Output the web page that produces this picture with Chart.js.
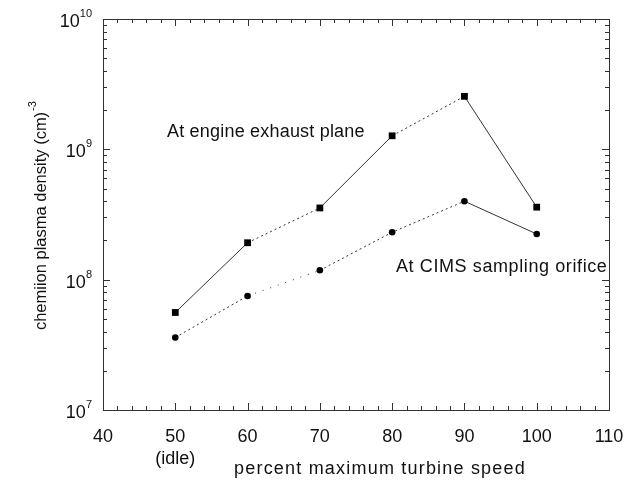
<!DOCTYPE html>
<html>
<head>
<meta charset="utf-8">
<script src="https://cdn.jsdelivr.net/npm/chart.js@4/dist/chart.umd.min.js"></script>
<style>
  html, body { margin: 0; padding: 0; background: #fff; }
  #wrap { width: 635px; height: 480px; }
</style>
</head>
<body>
<div id="wrap"><canvas id="c" width="635" height="480"></canvas></div>
<script>
// Turbine speed (percent of maximum) and chemiion densities (cm^-3)
const speeds = [50, 60, 70, 80, 90, 100];
const exhaustPlane = [5.6e7, 1.92e8, 3.55e8, 1.27e9, 2.55e9, 3.6e8];
const cimsOrifice = [3.6e7, 7.5e7, 1.18e8, 2.31e8, 4.0e8, 2.24e8];

const xTicks = [40, 50, 60, 70, 80, 90, 100, 110];
const yExponents = [7, 8, 9, 10];

// Look of each connecting segment
const exhaustSegs = ['solid', 'dotted', 'solid', 'dotted', 'solid'];
const cimsSegs = ['dotted', 'sparse', 'dotted', 'dotted', 'solid'];
const dashFor = { solid: [], dotted: [2, 3], sparse: [1, 7] };

const FONT = '"Liberation Sans", Arial, sans-serif';
const INK = '#111';

function spaced(ctx, px) {
  if ('letterSpacing' in ctx) ctx.letterSpacing = px + 'px';
}

const framePlugin = {
  id: 'frame',
  afterDatasetsDraw(chart) {
    const { ctx, chartArea: a, scales: { x, y } } = chart;
    ctx.save();
    ctx.strokeStyle = '#333';
    ctx.lineWidth = 1;
    ctx.strokeRect(Math.round(a.left) + 0.5, Math.round(a.top) + 0.5,
                   Math.round(a.right - a.left), Math.round(a.bottom - a.top));
    ctx.beginPath();
    // x ticks: minor every 2, major every 10
    for (let v = 40; v <= 110; v += 2) {
      const px = Math.round(x.getPixelForValue(v)) + 0.5;
      const len = v % 10 === 0 ? 7 : 4;
      ctx.moveTo(px, a.bottom); ctx.lineTo(px, a.bottom - len);
      ctx.moveTo(px, a.top); ctx.lineTo(px, a.top + len);
    }
    // y ticks: decades and 2..9 minor
    for (let e = 7; e <= 10; e++) {
      for (let m = 1; m <= 9; m++) {
        if (e === 10 && m > 1) break;
        const py = Math.round(y.getPixelForValue(m * Math.pow(10, e))) + 0.5;
        const len = m === 1 ? 7 : 4;
        ctx.moveTo(a.left, py); ctx.lineTo(a.left + len, py);
        ctx.moveTo(a.right, py); ctx.lineTo(a.right - len, py);
      }
    }
    ctx.stroke();

    ctx.fillStyle = INK;
    // x tick labels
    ctx.font = '18px ' + FONT;
    ctx.textAlign = 'center';
    ctx.textBaseline = 'middle';
    xTicks.forEach(v => ctx.fillText(String(v), x.getPixelForValue(v), 437));
    ctx.fillText('(idle)', x.getPixelForValue(50), 459);
    ctx.font = '18px ' + FONT;
    spaced(ctx, 1.2);
    ctx.fillText('percent maximum turbine speed', 380, 469);
    spaced(ctx, 0);

    // y tick labels with superscript exponents
    yExponents.forEach(e => {
      const py = y.getPixelForValue(Math.pow(10, e));
      const exp = String(e);
      ctx.font = '11px ' + FONT;
      const ew = ctx.measureText(exp).width;
      const right = 92;
      ctx.textAlign = 'left';
      ctx.textBaseline = 'alphabetic';
      ctx.fillText(exp, right - ew, py - 2);
      ctx.font = '18px ' + FONT;
      ctx.textAlign = 'right';
      ctx.fillText('10', right - ew, py + 8);
    });

    // y axis title
    ctx.save();
    ctx.translate(46, 221);
    ctx.rotate(-Math.PI / 2);
    ctx.font = '16.5px ' + FONT;
    ctx.textAlign = 'center';
    ctx.textBaseline = 'alphabetic';
    const title = 'chemiion plasma density (cm)';
    ctx.fillText(title, 0, 0);
    const tw = ctx.measureText(title).width;
    ctx.font = '11px ' + FONT;
    ctx.textAlign = 'left';
    ctx.fillText('-3', tw / 2 + 1, -10);
    ctx.restore();

    // series annotations
    ctx.font = '18px ' + FONT;
    spaced(ctx, 0.2);
    ctx.textAlign = 'left';
    ctx.textBaseline = 'middle';
    ctx.fillText('At engine exhaust plane', 167, 132);
    spaced(ctx, 0.6);
    ctx.fillText('At CIMS sampling orifice', 396, 267);
    ctx.restore();
  }
};

new Chart(document.getElementById('c'), {
  type: 'line',
  data: {
    datasets: [
      {
        label: 'At engine exhaust plane',
        data: speeds.map((s, i) => ({ x: s, y: exhaustPlane[i] })),
        borderColor: '#333',
        borderWidth: 1,
        pointStyle: 'rect',
        pointRadius: 4.8,
        pointBackgroundColor: '#000',
        pointBorderColor: '#000',
        pointBorderWidth: 0,
        segment: { borderDash: c => dashFor[exhaustSegs[c.p0DataIndex]] }
      },
      {
        label: 'At CIMS sampling orifice',
        data: speeds.map((s, i) => ({ x: s, y: cimsOrifice[i] })),
        borderColor: '#333',
        borderWidth: 1,
        pointStyle: 'circle',
        pointRadius: 3.3,
        pointBackgroundColor: '#000',
        pointBorderColor: '#000',
        pointBorderWidth: 0,
        segment: { borderDash: c => dashFor[cimsSegs[c.p0DataIndex]] }
      }
    ]
  },
  options: {
    responsive: false,
    animation: false,
    layout: { padding: { left: 103, top: 19, right: 26, bottom: 70 } },
    plugins: { legend: { display: false }, tooltip: { enabled: false } },
    scales: {
      x: { type: 'linear', min: 40, max: 110, display: false },
      y: { type: 'logarithmic', min: 1e7, max: 1e10, display: false }
    }
  },
  plugins: [framePlugin]
});
</script>
</body>
</html>
